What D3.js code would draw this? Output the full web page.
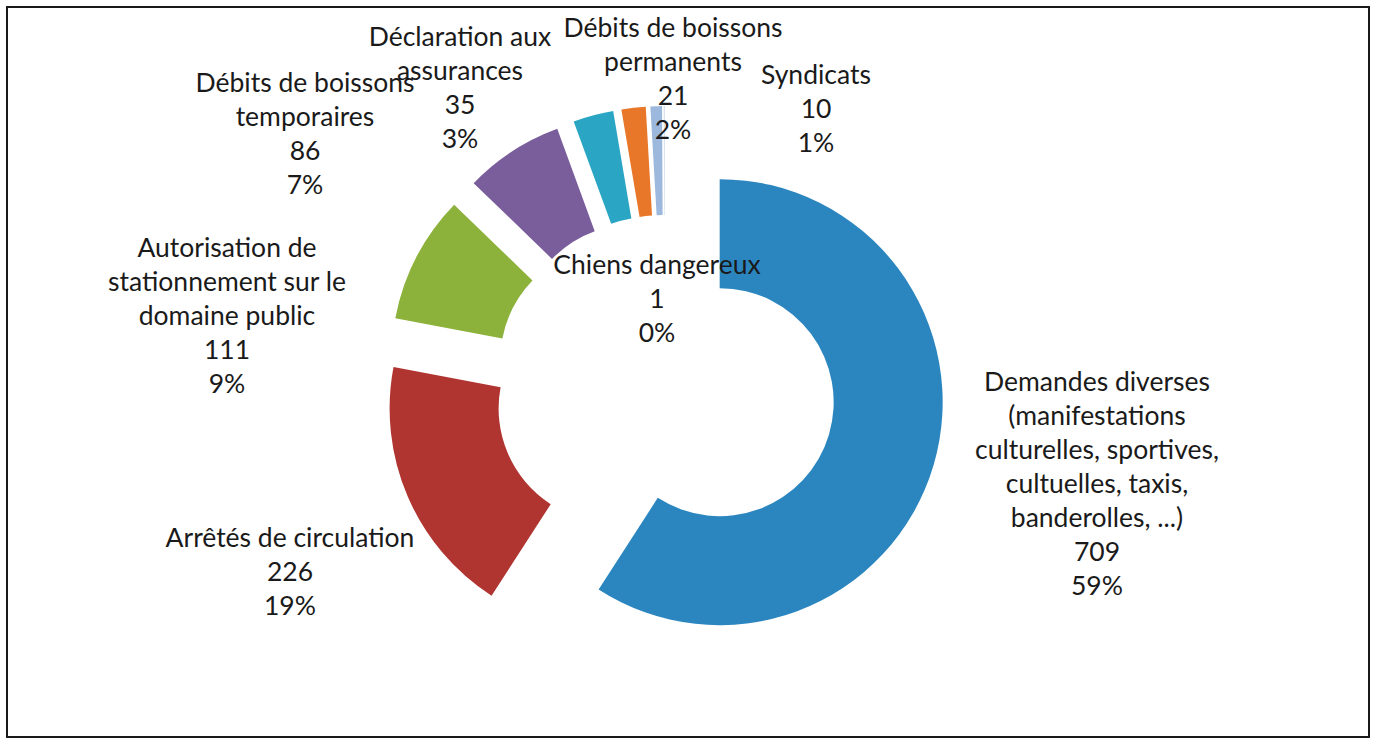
<!DOCTYPE html>
<html>
<head>
<meta charset="utf-8">
<script src="https://cdn.jsdelivr.net/npm/d3@7"></script>
<style>
  html, body { margin: 0; padding: 0; background: #fff; }
  svg text { font-family: Lato, "Open Sans", sans-serif; fill: #1a1a1a; }
</style>
</head>
<body>
<svg id="svg" width="1377" height="740"></svg>
<script>
(function() {
    'use strict';

    // données du graphique
    var categories = [
        'Demandes diverses (manifestations culturelles, sportives, cultuelles, taxis, banderolles, ...)',
        'Arrêtés de circulation',
        'Autorisation de stationnement sur le domaine public',
        'Débits de boissons temporaires',
        'Déclaration aux assurances',
        'Débits de boissons permanents',
        'Syndicats',
        'Chiens dangereux'
    ];
    var values = [709, 226, 111, 86, 35, 21, 10, 1];
    var percentLabels = ['59%', '19%', '9%', '7%', '3%', '2%', '1%', '0%'];
    // découpage des libellés en lignes, comme sur l'original
    var labelLines = [
        ['Demandes diverses', '(manifestations', 'culturelles, sportives,', 'cultuelles, taxis,', 'banderolles, ...)'],
        ['Arrêtés de circulation'],
        ['Autorisation de', 'stationnement sur le', 'domaine public'],
        ['Débits de boissons', 'temporaires'],
        ['Déclaration aux', 'assurances'],
        ['Débits de boissons', 'permanents'],
        ['Syndicats'],
        ['Chiens dangereux']
    ];
    var colors = ['#2b86c0', '#b0342f', '#8db23c', '#7a5e9c', '#2aa6c4', '#e9772a', '#9cb8dd', '#d3deec'];

    // mise en page
    var cx = 665, cy = 386;
    var outerR = 223, innerR = 114;
    var explode = 57;
    var lineH = 34;
    // ancre (centre x, ligne de base de la première ligne) de chaque étiquette
    var labelPos = [
        [1097, 391], [290, 547], [227, 257], [305, 92],
        [460, 46], [673, 37], [816, 84], [657, 274]
    ];

    var svg = d3.select('#svg');

    // cadre
    svg.append('rect')
        .attr('x', 7).attr('y', 7)
        .attr('width', 1362).attr('height', 730)
        .attr('fill', '#fff')
        .attr('stroke', '#1a1a1a')
        .attr('stroke-width', 2);

    var pie = d3.pie().sort(null).value(function (d) { return d; });
    var arcs = pie(values);

    var arc = d3.arc().innerRadius(innerR).outerRadius(outerR);

    var g = svg.append('g').attr('transform', 'translate(' + [cx, cy] + ')');

    // chaque part est décalée vers l'extérieur selon son angle médian
    g.selectAll('.slice')
        .data(arcs)
        .enter()
        .append('path')
        .classed('slice', true)
        .attr('d', arc)
        .attr('fill', function (d, i) { return colors[i]; })
        .attr('transform', function (d) {
            var mid = (d.startAngle + d.endAngle) / 2;
            return 'translate(' + [Math.sin(mid) * explode, -Math.cos(mid) * explode] + ')';
        });

    // étiquettes : nom, valeur, pourcentage
    var label = svg.selectAll('.label')
        .data(arcs)
        .enter()
        .append('text')
        .classed('label', true)
        .attr('text-anchor', 'middle')
        .style('font-size', '26.5px');

    label.each(function (d, i) {
        var lines = labelLines[i].concat([String(values[i]), percentLabels[i]]);
        var t = d3.select(this);
        lines.forEach(function (s, k) {
            t.append('tspan')
                .attr('x', labelPos[i][0])
                .attr('y', labelPos[i][1] + k * lineH)
                .text(s);
        });
    });
})();
</script>
</body>
</html>
